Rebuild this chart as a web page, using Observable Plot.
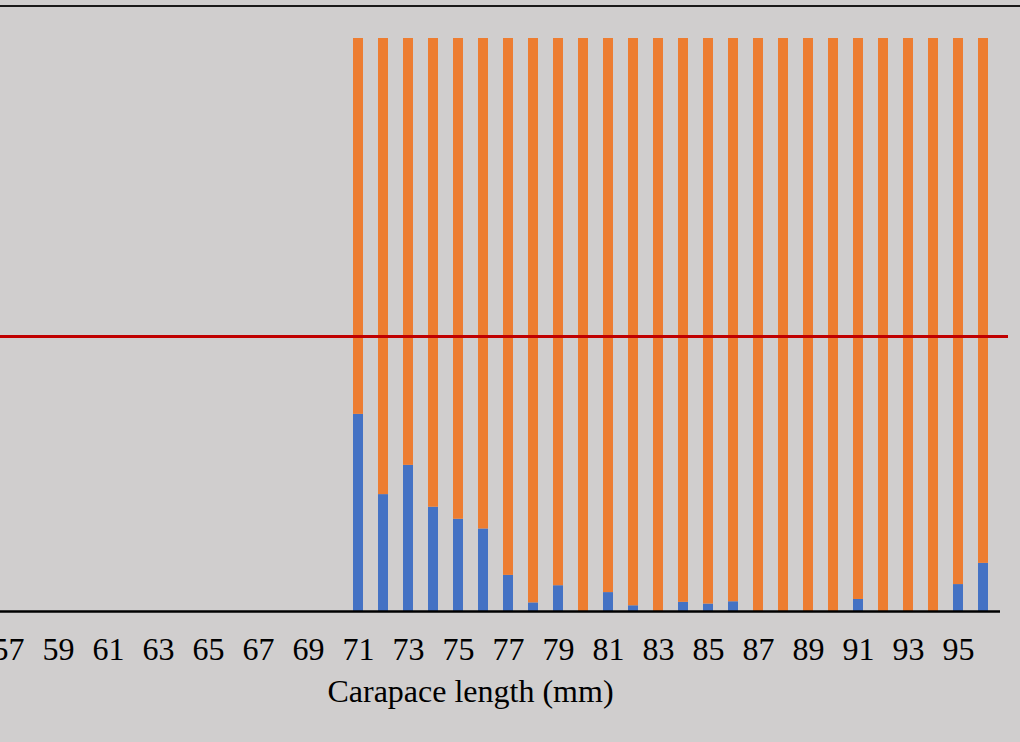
<!DOCTYPE html>
<html>
<head>
<meta charset="utf-8">
<script src="https://cdn.jsdelivr.net/npm/d3@7"></script>
<script src="https://cdn.jsdelivr.net/npm/@observablehq/plot@0.6"></script>
<style>
  html, body { margin: 0; padding: 0; background: #d0cece; }
  #wrap { width: 1020px; height: 742px; overflow: hidden; padding-top: 5px; box-sizing: border-box; }
  #topline { border-top: 2px solid #1a1a1a; }
</style>
</head>
<body>
<div id="wrap"><div id="topline"><div id="chart"></div></div></div>
<script>
const lengths = [57,58,59,60,61,62,63,64,65,66,67,68,69,70,71,72,73,74,75,76,77,78,79,80,81,82,83,84,85,86,87,88,89,90,91,92,93,94,95,96];
const tickLabels = [57,59,61,63,65,67,69,71,73,75,77,79,81,83,85,87,89,91,93,95];
const measured = [71,72,73,74,75,76,77,78,79,80,81,82,83,84,85,86,87,88,89,90,91,92,93,94,95,96];
const blueShare = [0.344,0.204,0.255,0.182,0.161,0.144,0.063,0.015,0.045,0,0.033,0.010,0,0.016,0.013,0.017,0,0,0,0,0.021,0,0,0,0.047,0.084];
const orangeShare = [0.656,0.796,0.745,0.818,0.839,0.856,0.937,0.985,0.955,1,0.967,0.990,1,0.984,0.987,0.983,1,1,1,1,0.979,1,1,1,0.953,0.916];
const seriesNames = ["Series 1", "Series 2"];
const seriesColors = ["#4472c4", "#ed7d31"];
const referenceLine = 0.48;
const axisTitle = "Carapace length (mm)";

const rows = [];
measured.forEach((len, i) => {
  rows.push({len, series: seriesNames[0], share: blueShare[i]});
  rows.push({len, series: seriesNames[1], share: orangeShare[i]});
});

const font = "'Liberation Serif', 'Times New Roman', serif";

const chart = Plot.plot({
  width: 1020,
  height: 735,
  marginLeft: 0,
  marginRight: 12,
  marginTop: 31,
  marginBottom: 131,
  style: {background: "#d0cece", fontFamily: font, color: "black"},
  x: {type: "band", domain: lengths, range: [-15.4, 1006.9], padding: 0.6},
  y: {domain: [0, 1], axis: null},
  color: {domain: seriesNames, range: seriesColors},
  marks: [
    Plot.barY(rows, {x: "len", y: "share", fill: "series", order: seriesNames}),
    Plot.ruleY([referenceLine], {stroke: "#c00000", strokeWidth: 3}),
    Plot.ruleY([0], {stroke: "black", strokeWidth: 2.5, insetRight: 8}),
    Plot.axisX({ticks: tickLabels, tickSize: 0, tickPadding: 26, fontSize: 32, fontFamily: font, fill: "black", label: null}),
    Plot.text([axisTitle], {frameAnchor: "bottom", dx: -34, dy: 90, fontSize: 32, fontFamily: font, fill: "black"})
  ]
});
document.getElementById("chart").appendChild(chart);
</script>
</body>
</html>
